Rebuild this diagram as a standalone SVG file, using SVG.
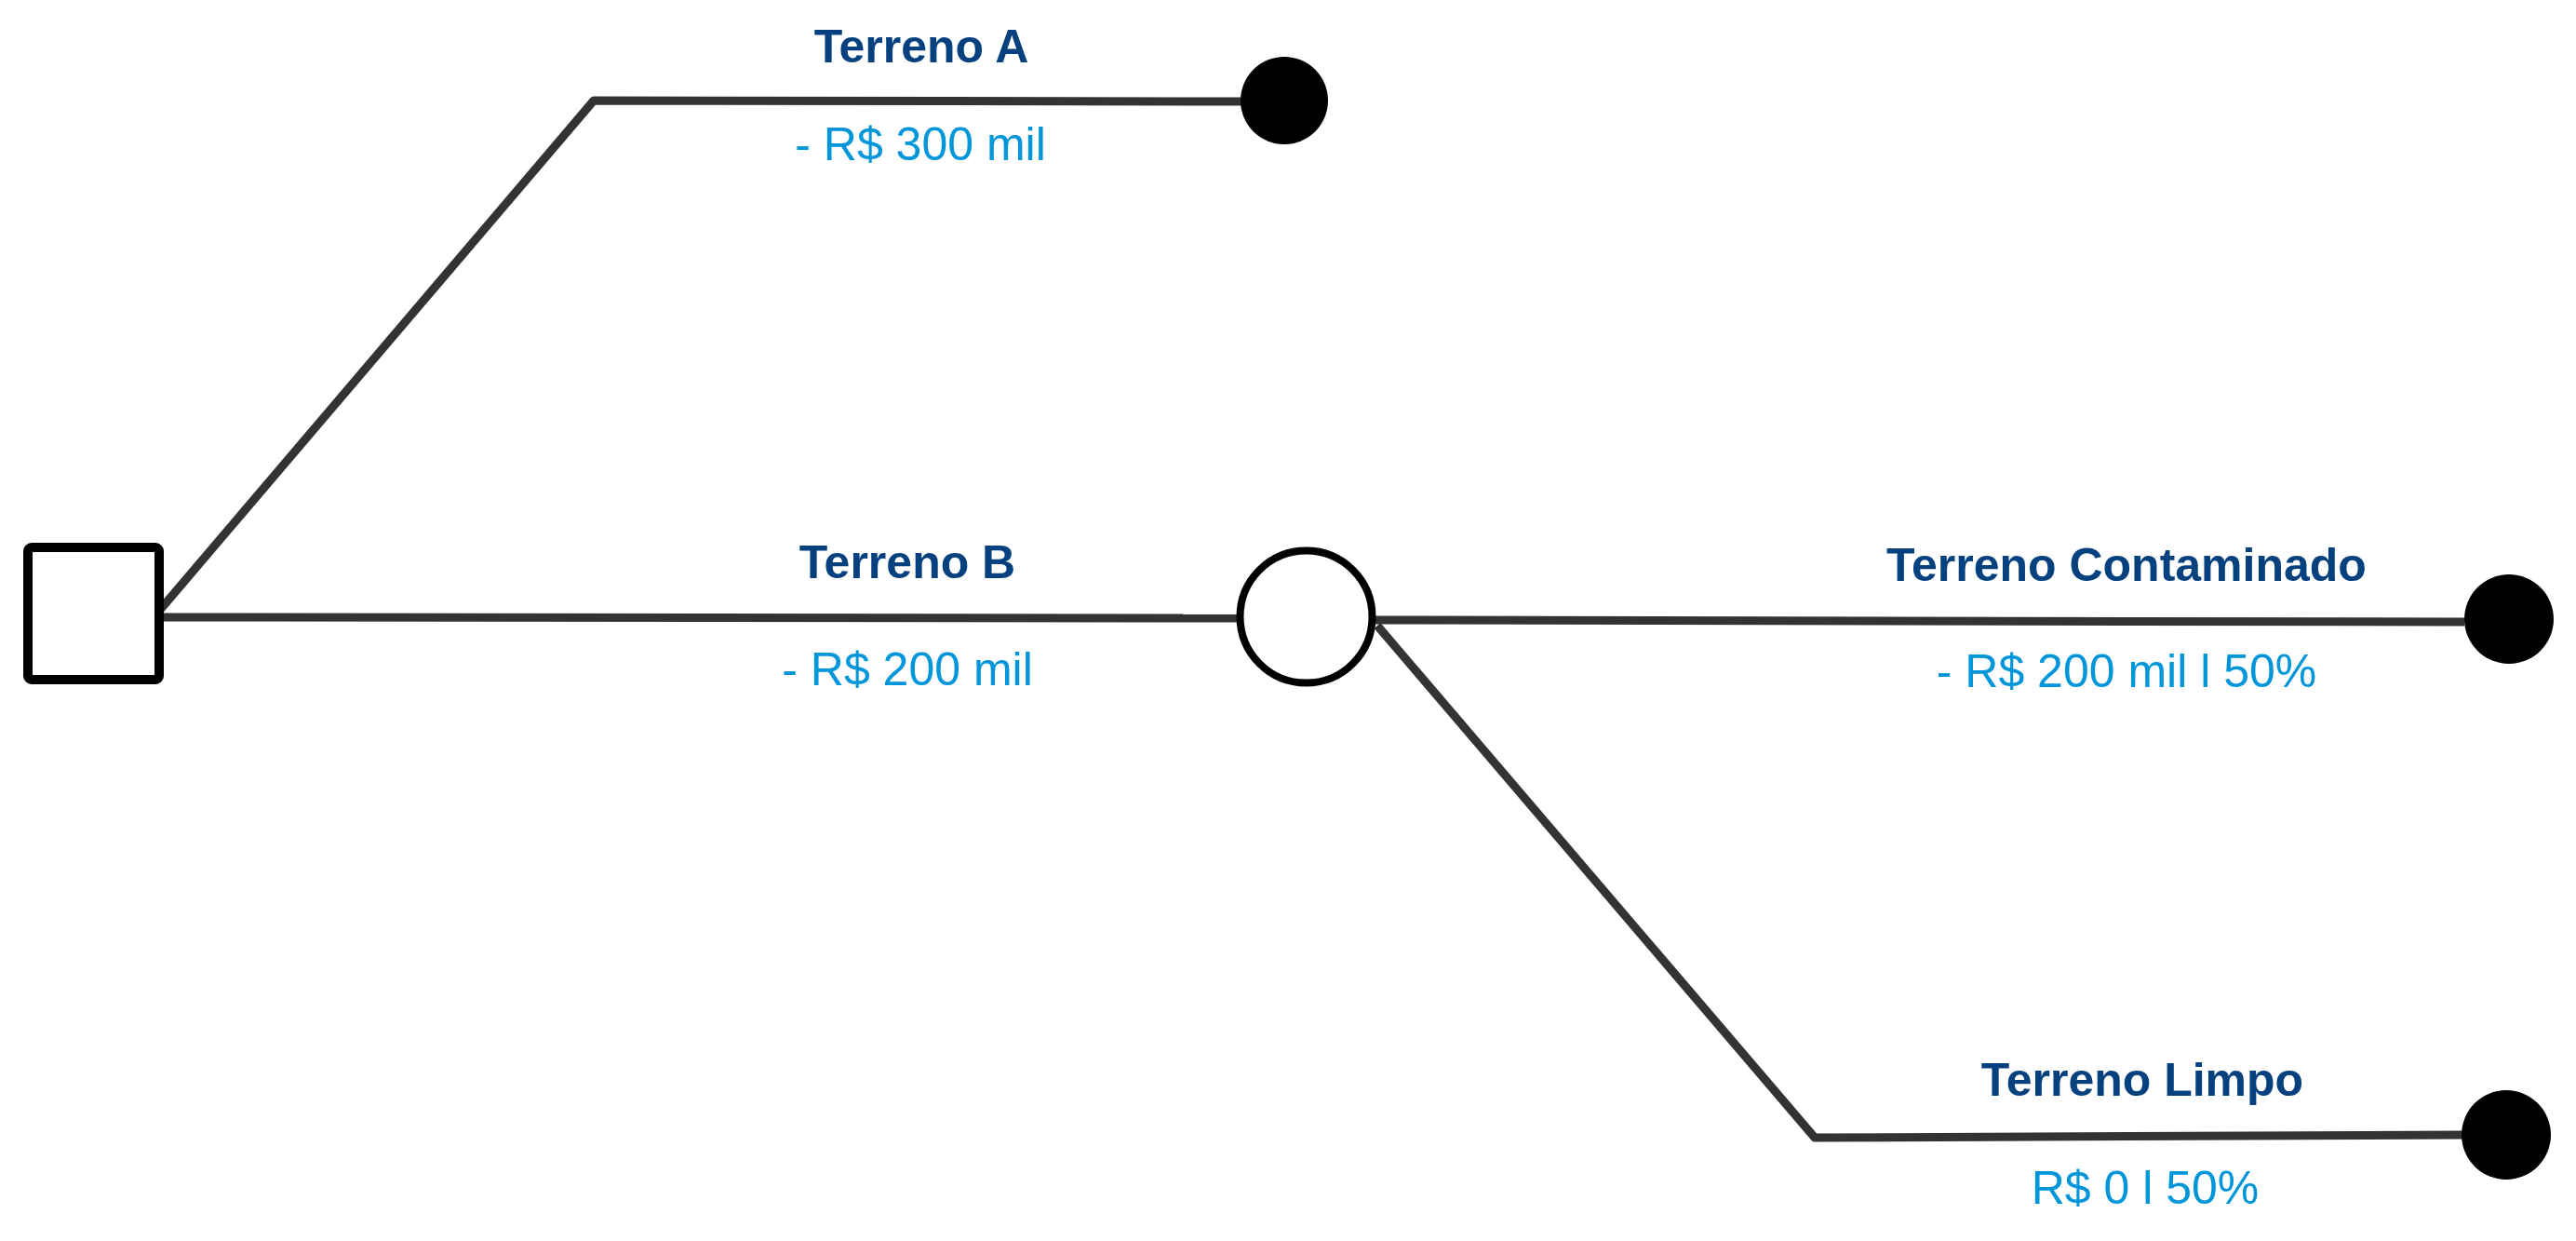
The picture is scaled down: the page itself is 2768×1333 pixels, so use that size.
<svg xmlns="http://www.w3.org/2000/svg" width="2768" height="1333" viewBox="0 0 2768 1333">
<style>
.edge{fill:none;stroke:#333333;stroke-width:9;stroke-linejoin:round}
.term{fill:#000000}
.title{font-family:"Liberation Sans",Arial,sans-serif;font-weight:bold;font-size:50px;fill:#05407f;text-anchor:middle}
.val{font-family:"Liberation Sans",Arial,sans-serif;font-size:50px;fill:#0096d9;text-anchor:middle}
</style>
<rect width="2768" height="1333" fill="#ffffff"/>
<g id="connectors">
<polyline class="edge" points="172,655 638,108 1335,109"/>
<line class="edge" x1="170" y1="663" x2="1336" y2="664"/>
<line class="edge" x1="1478" y1="666" x2="2648" y2="668"/>
<polyline class="edge" points="1480,672 1950,1222 2648,1219"/>
</g>
<g id="decision">
<rect x="30" y="588" width="141" height="142" rx="4" fill="#ffffff" stroke="#000000" stroke-width="10"/>
</g>
<g id="chance">
<circle cx="1403.5" cy="662.5" r="71" fill="#ffffff" stroke="#000000" stroke-width="8"/>
</g>
<g id="end-a"><circle class="term" cx="1380" cy="108" r="47"/></g>
<g id="end-contaminado"><circle class="term" cx="2696" cy="665" r="48"/></g>
<g id="end-limpo"><circle class="term" cx="2693" cy="1219" r="48"/></g>
<g id="label-a">
<text class="title" x="990" y="67">Terreno A</text>
<text class="val" x="989" y="172">- R$ 300 mil</text>
</g>
<g id="label-b">
<text class="title" x="975" y="621">Terreno B</text>
<text class="val" x="975" y="736">- R$ 200 mil</text>
</g>
<g id="label-contaminado">
<text class="title" x="2285" y="624">Terreno Contaminado</text>
<text class="val" x="2285" y="738">- R$ 200 mil l 50%</text>
</g>
<g id="label-limpo">
<text class="title" x="2302" y="1177">Terreno Limpo</text>
<text class="val" x="2305" y="1293">R$ 0 l 50%</text>
</g>
</svg>
